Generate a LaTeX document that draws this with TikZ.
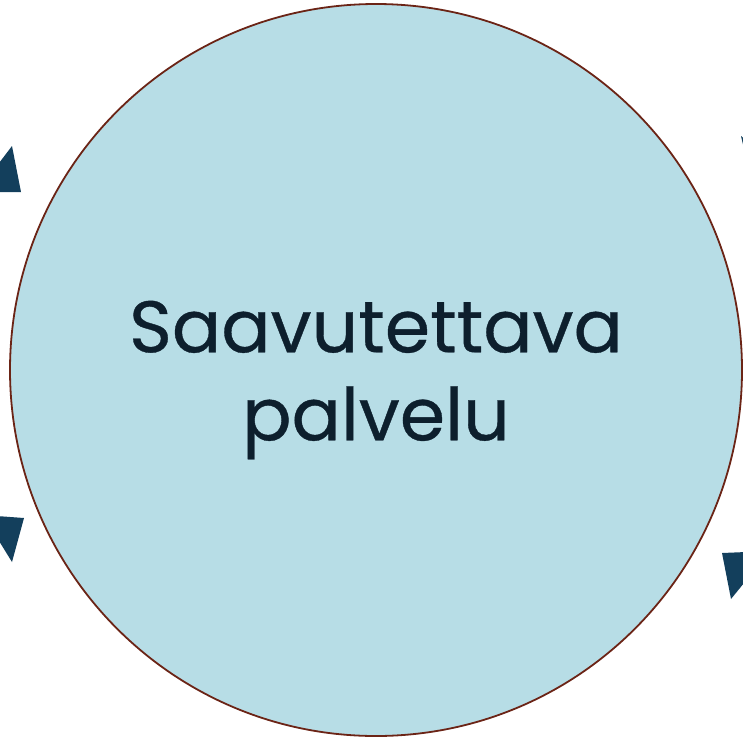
\documentclass[tikz,border=0pt]{standalone}
\usepackage{fontspec}
\setmainfont{Poppins}[FakeBold=0.5]
\usetikzlibrary{positioning}
\definecolor{circlefill}{HTML}{B7DDE6}
\definecolor{circleline}{HTML}{6B2416}
\definecolor{tipblue}{HTML}{133F5C}
\definecolor{textnavy}{HTML}{0D1F2D}
\begin{document}
\begin{tikzpicture}[
x=1pt, y=-1pt,
servicenode/.style={circle, draw=circleline, line width=1.8pt, fill=circlefill, minimum size=732pt, inner sep=0pt},
servicetext/.style={text=textnavy, font=\fontsize{73}{88}\selectfont, align=center},
arrowtip/.style={fill=tipblue}
]
\useasboundingbox (0,0) rectangle (743,736);
\clip (0,0) rectangle (743,736);

%Nodes
\node[servicenode] (service) at (376,370) {};
\node[servicetext] (label) at (376,380) {Saavutettava\\palvelu};

%Arrow tips of the cycle, cut by the page edge
\foreach \ax/\ay/\bx/\by/\cx/\cy in {% corner a/corner b/corner c
      12/146/21/192/-23/192,
      -17/515/24/518/12/562,
      741/136/752/183/790/178,
      722/553/770/551/731/599}
  \fill[arrowtip] (\ax,\ay) -- (\bx,\by) -- (\cx,\cy) -- cycle;
\end{tikzpicture}
\end{document}
